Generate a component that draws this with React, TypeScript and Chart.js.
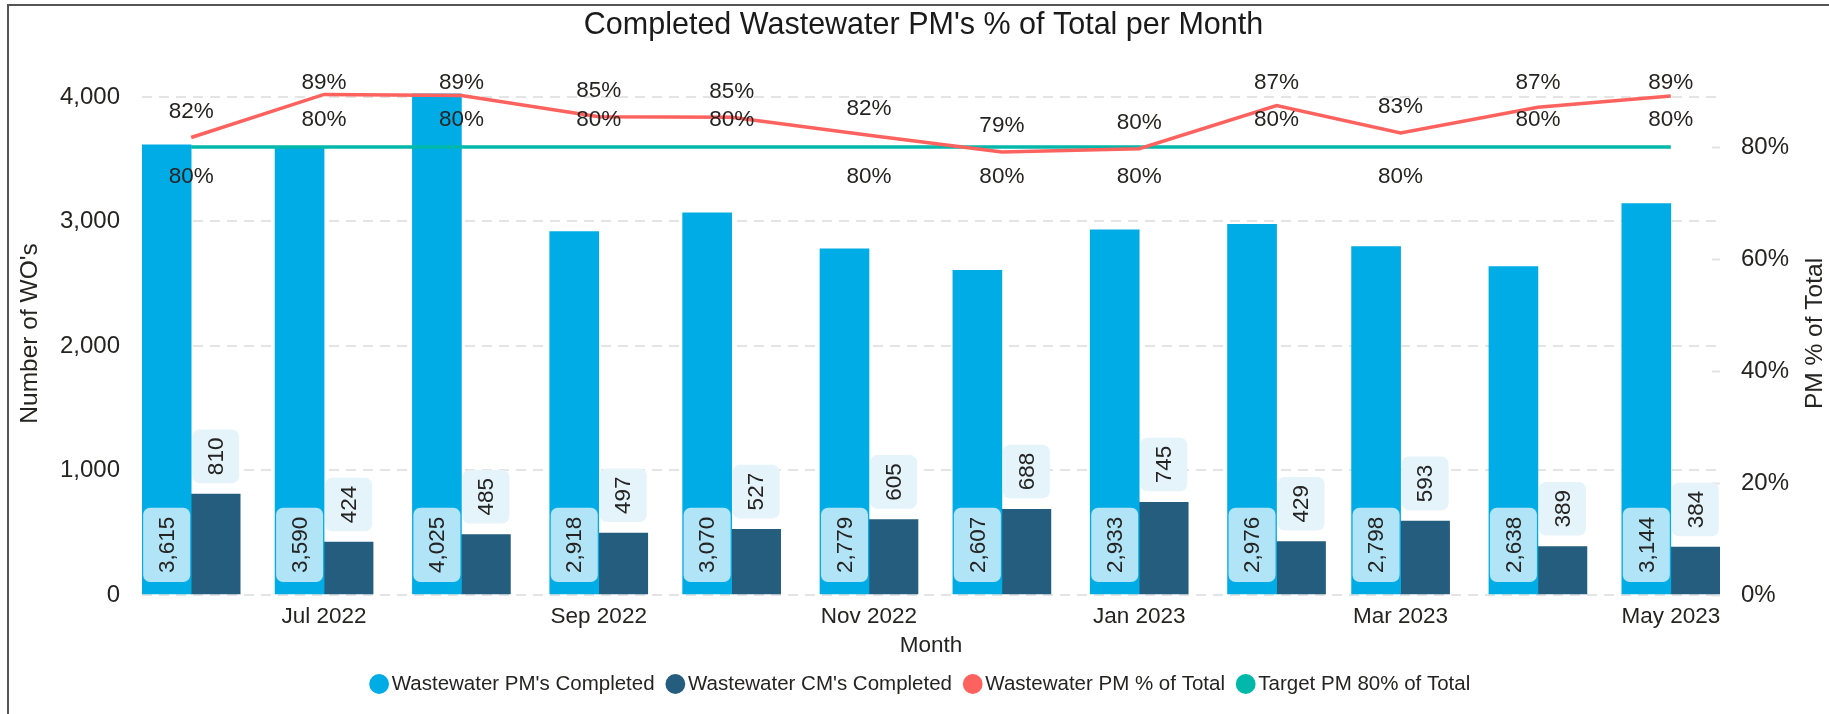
import React, { useEffect, useRef } from 'react';
import { Chart, registerables } from 'chart.js';

Chart.register(...registerables);

// ---------- data ----------
const MONTHS = ['Jun 2022', 'Jul 2022', 'Aug 2022', 'Sep 2022', 'Oct 2022', 'Nov 2022', 'Dec 2022', 'Jan 2023', 'Feb 2023', 'Mar 2023', 'Apr 2023', 'May 2023'];
const X_TICK_LABELS = ['Jul 2022', 'Sep 2022', 'Nov 2022', 'Jan 2023', 'Mar 2023', 'May 2023'];
const PM_COMPLETED = [3615, 3590, 4025, 2918, 3070, 2779, 2607, 2933, 2976, 2798, 2638, 3144];
const CM_COMPLETED = [810, 424, 485, 497, 527, 605, 688, 745, 429, 593, 389, 384];
const PM_PCT = [81.7, 89.4, 89.2, 85.4, 85.3, 82.1, 79.1, 79.7, 87.4, 82.51, 87.1, 89.1];
const TARGET_PCT = [80, 80, 80, 80, 80, 80, 80, 80, 80, 80, 80, 80];
const LEFT_TICKS = [0, 1000, 2000, 3000, 4000];
const RIGHT_TICKS = [0, 20, 40, 60, 80];
const RIGHT_TITLE = 'PM % of Total';

const MON_ABBR = ['Jan', 'Feb', 'Mar', 'Apr', 'May', 'Jun', 'Jul', 'Aug', 'Sep', 'Oct', 'Nov', 'Dec'];
const dayOf = (label: string) => {
  const [m, y] = label.split(' ');
  return Date.UTC(Number(y), MON_ABBR.indexOf(m), 1) / 86400000;
};
const DAY0 = dayOf(MONTHS[0]);
const XDAYS = MONTHS.map((m) => dayOf(m) - DAY0);

// ---------- styles ----------
const FONT = "'Liberation Sans', Arial, sans-serif";
const TEXT = '#252423';
const C_PM = '#00ACE6';
const C_CM = '#255D7E';
const C_PCT = '#FD625E';
const C_TGT = '#01B8AA';
const EDGE_DAYS = 11.1;

const fmt = (v: number) => v.toLocaleString('en-US');

function roundRect(ctx: CanvasRenderingContext2D, x: number, y: number, w: number, h: number, r: number, fill: string) {
  ctx.beginPath();
  if ((ctx as any).roundRect) (ctx as any).roundRect(x, y, w, h, r);
  else ctx.rect(x, y, w, h);
  ctx.fillStyle = fill;
  ctx.fill();
}

const labelPlugin = {
  id: 'pbiLabels',
  afterDatasetsDraw(chart: any) {
    const ctx: CanvasRenderingContext2D = chart.ctx;
    const area = chart.chartArea;
    ctx.save();
    ctx.font = `22.5px ${FONT}`;
    const drawRot = (cx: number, cy: number, text: string) => {
      ctx.save();
      ctx.translate(cx, cy);
      ctx.rotate(-Math.PI / 2);
      ctx.textAlign = 'center';
      ctx.textBaseline = 'middle';
      ctx.fillStyle = TEXT;
      ctx.fillText(text, 0, 1);
      ctx.restore();
    };
    // PM bars: inside base
    chart.getDatasetMeta(0).data.forEach((bar: any, i: number) => {
      const { x, width, base } = bar.getProps(['x', 'width', 'base'], true);
      const text = fmt(PM_COMPLETED[i]);
      const h = ctx.measureText(text).width + 18;
      const bottom = base - 12;
      roundRect(ctx, x - width / 2 + 1, bottom - h, width - 2, h, 7, '#B2E4F7');
      drawRot(x, bottom - h / 2, text);
    });
    // CM bars: outside end
    chart.getDatasetMeta(1).data.forEach((bar: any, i: number) => {
      const { x, y, width } = bar.getProps(['x', 'y', 'width'], true);
      const text = fmt(CM_COMPLETED[i]);
      const h = ctx.measureText(text).width + 16;
      const bottom = y - 11;
      roundRect(ctx, x - width / 2 + 1, bottom - h, width - 2, h, 7, '#E5F4FB');
      drawRot(x, bottom - h / 2, text);
    });
    // line labels
    ctx.textAlign = 'center';
    ctx.textBaseline = 'middle';
    ctx.fillStyle = TEXT;
    const pctMeta = chart.getDatasetMeta(2);
    const tgtMeta = chart.getDatasetMeta(3);
    const LBL_H = 24;
    pctMeta.data.forEach((pt: any, i: number) => {
      const ry = Math.max(pt.y - 26, area.top + 11);
      ctx.fillText(Math.round(PM_PCT[i]) + '%', pt.x, ry);
      const tp = tgtMeta.data[i];
      let ty = tp.y - 27;
      if (Math.abs(ty - ry) < LBL_H) ty = tp.y + 30;
      ctx.fillText(Math.round(TARGET_PCT[i]) + '%', tp.x, ty);
    });
    ctx.restore();
  },
  afterDraw(chart: any) {
    // right axis title, reading bottom-to-top like the reference
    const ctx: CanvasRenderingContext2D = chart.ctx;
    const s = chart.scales.y1;
    ctx.save();
    ctx.font = `24.5px ${FONT}`;
    ctx.fillStyle = TEXT;
    ctx.textAlign = 'center';
    ctx.textBaseline = 'middle';
    ctx.translate(s.right - 14, (s.top + s.bottom) / 2);
    ctx.rotate(-Math.PI / 2);
    ctx.fillText(RIGHT_TITLE, 0, 0);
    ctx.restore();
  },
};

export default function App() {
  const ref = useRef<HTMLCanvasElement>(null);
  useEffect(() => {
    Chart.defaults.font.family = FONT;
    Chart.defaults.color = TEXT;
    const chart = new Chart(ref.current as HTMLCanvasElement, {
      type: 'bar',
      data: {
        datasets: [
          {
            label: "Wastewater PM's Completed",
            data: PM_COMPLETED.map((v, i) => ({ x: XDAYS[i], y: v })),
            backgroundColor: C_PM,
            barThickness: 49,
            yAxisID: 'y',
            order: 2,
          },
          {
            label: "Wastewater CM's Completed",
            data: CM_COMPLETED.map((v, i) => ({ x: XDAYS[i], y: v })),
            backgroundColor: C_CM,
            barThickness: 49,
            yAxisID: 'y',
            order: 2,
          },
          {
            type: 'line',
            label: 'Wastewater PM % of Total',
            data: PM_PCT.map((v, i) => ({ x: XDAYS[i], y: v })),
            borderColor: C_PCT,
            backgroundColor: C_PCT,
            borderWidth: 3.5,
            pointRadius: 0,
            tension: 0,
            yAxisID: 'y1',
            order: 0,
          },
          {
            type: 'line',
            label: 'Target PM 80% of Total',
            data: TARGET_PCT.map((v, i) => ({ x: XDAYS[i], y: v })),
            borderColor: C_TGT,
            backgroundColor: C_TGT,
            borderWidth: 3.5,
            pointRadius: 0,
            tension: 0,
            yAxisID: 'y1',
            order: 1,
          },
        ] as any,
      },
      options: {
        responsive: false,
        animation: false,
        devicePixelRatio: 1,
        layout: { padding: { left: 18, right: 0, top: 0, bottom: 9.75 } },
        plugins: {
          title: {
            display: true,
            text: "Completed Wastewater PM's % of Total per Month",
            font: { size: 30.5, weight: 'normal' },
            color: '#1a1a1a',
            padding: { top: 7, bottom: 28.4 },
          },
          legend: {
            position: 'bottom',
            labels: {
              usePointStyle: true,
              pointStyle: 'circle',
              boxWidth: 4.7,
              boxHeight: 14,
              padding: 18.4,
              font: { size: 20.5 },
              color: TEXT,
              generateLabels: (c: any) =>
                (Chart.defaults.plugins.legend.labels.generateLabels as any)(c)
                  .map((l: any) => ({ ...l, lineWidth: 0, strokeStyle: l.fillStyle }))
                  .sort((a: any, b: any) => a.datasetIndex - b.datasetIndex),
            },
          },
          tooltip: { enabled: false },
        },
        scales: {
          x: {
            type: 'linear',
            min: XDAYS[0] - EDGE_DAYS,
            max: XDAYS[XDAYS.length - 1] + EDGE_DAYS,
            offset: false,
            grid: { display: false, drawTicks: false },
            border: { display: false },
            afterBuildTicks: (axis: any) => {
              axis.ticks = X_TICK_LABELS.map((l) => ({ value: XDAYS[MONTHS.indexOf(l)] }));
            },
            ticks: {
              autoSkip: false,
              maxRotation: 0,
              padding: 8.5,
              font: { size: 22.5 },
              callback: (v: any) => {
                const i = XDAYS.indexOf(Number(v));
                return i >= 0 ? MONTHS[i] : '';
              },
            },
            title: { display: true, text: 'Month', font: { size: 22.5 }, padding: { top: 0, bottom: -4.15 } },
            afterFit: (s: any) => {
              s.height = 60.35;
            },
          },
          y: {
            position: 'left',
            min: 0,
            max: 4200,
            afterBuildTicks: (axis: any) => {
              axis.ticks = LEFT_TICKS.map((v) => ({ value: v }));
            },
            ticks: { padding: 22, font: { size: 24 }, callback: (v: any) => fmt(Number(v)) },
            grid: { color: '#E4E4E4', lineWidth: 2, drawTicks: false },
            border: { display: false, dash: [10, 7] },
            title: { display: true, text: "Number of WO's", font: { size: 24.5 }, padding: { top: -2.7, bottom: 0 } },
            afterFit: (s: any) => {
              s.width = 124;
            },
          },
          y1: {
            position: 'right',
            min: 0,
            max: 93.4,
            afterBuildTicks: (axis: any) => {
              axis.ticks = RIGHT_TICKS.map((v) => ({ value: v }));
            },
            ticks: { padding: 29, font: { size: 24 }, callback: (v: any) => v + '%' },
            grid: { drawOnChartArea: false, drawTicks: true, tickLength: -8, tickColor: '#E4E4E4', tickWidth: 2 },
            border: { display: false },
            title: { display: false },
            afterFit: (s: any) => {
              s.width = 109;
            },
          },
        },
      } as any,
      plugins: [labelPlugin],
    });
    return () => chart.destroy();
  }, []);

  return (
    <div style={{ position: 'absolute', left: 0, top: 0, width: 1829, height: 714, overflow: 'hidden', background: '#fff' }}>
      <canvas ref={ref} width={1829} height={714} style={{ display: 'block', width: 1829, height: 714 }} />
      <div
        style={{
          position: 'absolute',
          left: 7,
          top: 4,
          width: 1860,
          height: 760,
          borderLeft: '2px solid #555',
          borderTop: '2px solid #555',
          pointerEvents: 'none',
        }}
      />
    </div>
  );
}
